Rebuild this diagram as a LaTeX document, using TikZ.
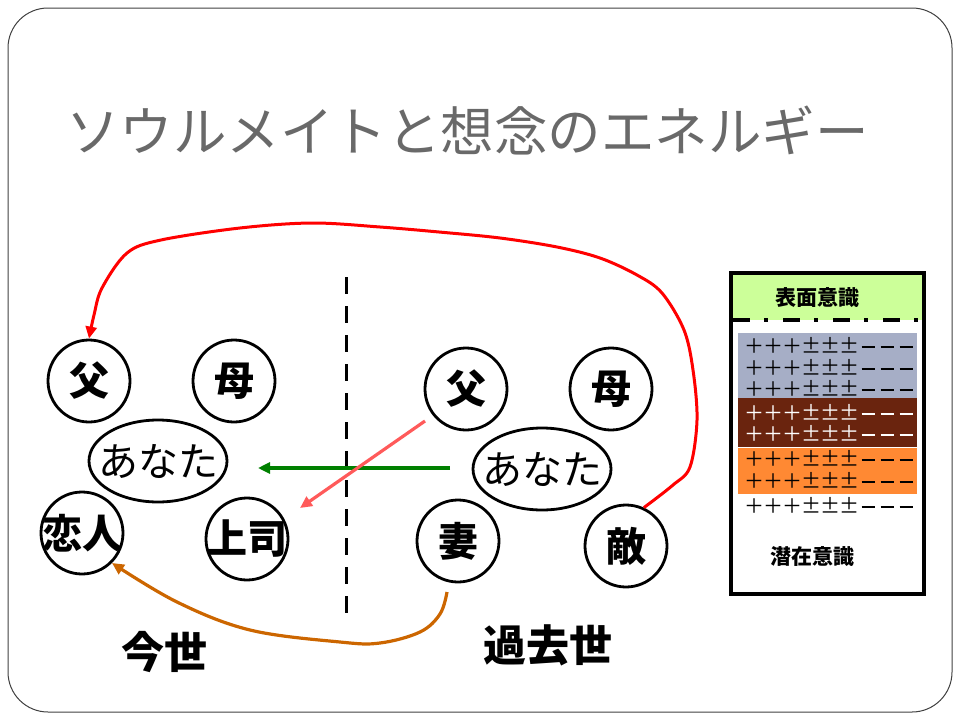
\documentclass[tikz,border=0pt]{standalone}
\usepackage{fontspec}
\setmainfont{Noto Sans CJK JP}
\usetikzlibrary{shapes.geometric,arrows.meta}
\definecolor{hdrgreen}{RGB}{204,255,153}
\definecolor{bandblue}{RGB}{166,174,198}
\definecolor{bandbrown}{RGB}{106,36,14}
\definecolor{bandorange}{RGB}{255,137,51}
\definecolor{arrgreen}{RGB}{0,128,0}
\definecolor{arrpink}{RGB}{255,90,90}
\definecolor{arrorange}{RGB}{204,102,0}
\definecolor{titlegray}{RGB}{105,105,105}
\newcommand{\pmcell}[1]{\makebox[19pt]{#1}}
\newcommand{\pmbar}{\makebox[19pt]{\raisebox{5.5pt}{\rule{13pt}{1.7pt}}}}
\newcommand{\pmrow}{\pmcell{＋}\pmcell{＋}\pmcell{＋}\pmcell{±}\pmcell{±}\pmcell{±}\pmbar\pmbar\pmbar}
\begin{document}
\begin{tikzpicture}[x=1pt,y=-1pt,
  circ/.style={circle,draw=black,line width=2.8pt,minimum size=82pt,inner sep=0pt,font=\fontsize{40}{44}\selectfont\bfseries},
  ell/.style={ellipse,draw=black,line width=2.8pt,minimum width=138pt,minimum height=82pt,inner sep=0pt,font=\fontsize{40}{44}\selectfont},
  era/.style={inner sep=0pt,font=\fontsize{43}{46}\selectfont\bfseries},
  pmtext/.style={inner sep=0pt,font=\fontsize{20}{22}\selectfont},
  boxlabel/.style={inner sep=0pt,font=\fontsize{21}{23}\selectfont\bfseries},
  conn/.style={line width=3.2pt,-{Triangle[length=12pt,width=11pt]}},
]
\path[use as bounding box] (0,0) rectangle (960,720);
\draw[black!75,line width=1pt,rounded corners=40pt] (8,8) rectangle (952,712);

\node[anchor=west,inner sep=0pt,text=titlegray,font=\fontsize{53.5}{58}\selectfont] (title) at (66,130) {ソウルメイトと想念のエネルギー};

% present life
\node[circ] (fa1) at (89,381) {\makebox[0pt]{父}};
\node[circ] (mo1) at (234,381) {\makebox[0pt]{母}};
\node[ell] (you1) at (158,461) {\makebox[0pt]{あなた}};
\node[circ] (koi) at (82,533) {\makebox[0pt]{恋人}};
\node[circ] (boss) at (247,539) {\makebox[0pt]{上司}};
\node[era] (now) at (164,652) {今世};

% past life
\node[circ] (fa2) at (466,389) {\makebox[0pt]{父}};
\node[circ] (mo2) at (611,389) {\makebox[0pt]{母}};
\node[ell] (you2) at (542,469) {\makebox[0pt]{あなた}};
\node[circ] (wife) at (458,541) {\makebox[0pt]{妻}};
\node[circ] (teki) at (626,546) {\makebox[0pt]{敵}};
\node[era] (past) at (548,645) {過去世};

% divider
\coordinate (d1) at (346,277);
\coordinate (d2) at (346,620);
\draw[line width=3pt,dash pattern=on 17pt off 12pt] (d1) -- (d2);

% arrows
\coordinate (g1) at (450,468);
\coordinate (g2) at (258,468);
\draw[conn,arrgreen] (g1) -- (g2);
\coordinate (p1) at (425,421);
\coordinate (p2) at (300,508);
\draw[conn,arrpink] (p1) -- (p2);
\draw[conn,arrorange] plot[smooth,tension=0.6] coordinates {(447,592) (440,614) (420,632) (380,643) (340,642) (250,630) (177,602) (koi.-45)};
\draw[conn,red,line width=3pt] plot[smooth,tension=0.55] coordinates {(teki.65) (673,485) (690,467) (697,420) (693,370) (684,330) (662,293) (637,275) (600,258) (557,247) (500,238) (439,232) (380,227) (312,223) (240,228) (161,240) (127,253) (102,288) (94,315) (fa1.north)};

% consciousness box
\fill[hdrgreen] (731,273) rectangle (924,320);
\fill[bandblue] (738,333) rectangle (917,398);
\fill[bandbrown] (738,398) rectangle (917,447);
\fill[bandorange] (738,448) rectangle (917,494);
\coordinate (b1) at (731,273);
\coordinate (b2) at (924,594);
\draw[line width=4pt] (b1) rectangle (b2);
\coordinate (l1) at (733,320);
\coordinate (l2) at (922,320);
\draw[line width=4pt,dash pattern=on 17pt off 14pt on 4pt off 15pt] (l1) -- (l2);
\node[boxlabel] (surf) at (817,298) {表面意識};
\node[boxlabel] (sub) at (812,557) {潜在意識};
\node[pmtext] (r1) at (830,345) {\pmrow};
\node[pmtext] (r2) at (830,367) {\pmrow};
\node[pmtext] (r3) at (830,388) {\pmrow};
\node[pmtext,text=white] (r4) at (830,412) {\pmrow};
\node[pmtext,text=white] (r5) at (830,433) {\pmrow};
\node[pmtext] (r6) at (830,458) {\pmrow};
\node[pmtext] (r7) at (830,480) {\pmrow};
\node[pmtext] (r8) at (830,505) {\pmrow};
\end{tikzpicture}
\end{document}
